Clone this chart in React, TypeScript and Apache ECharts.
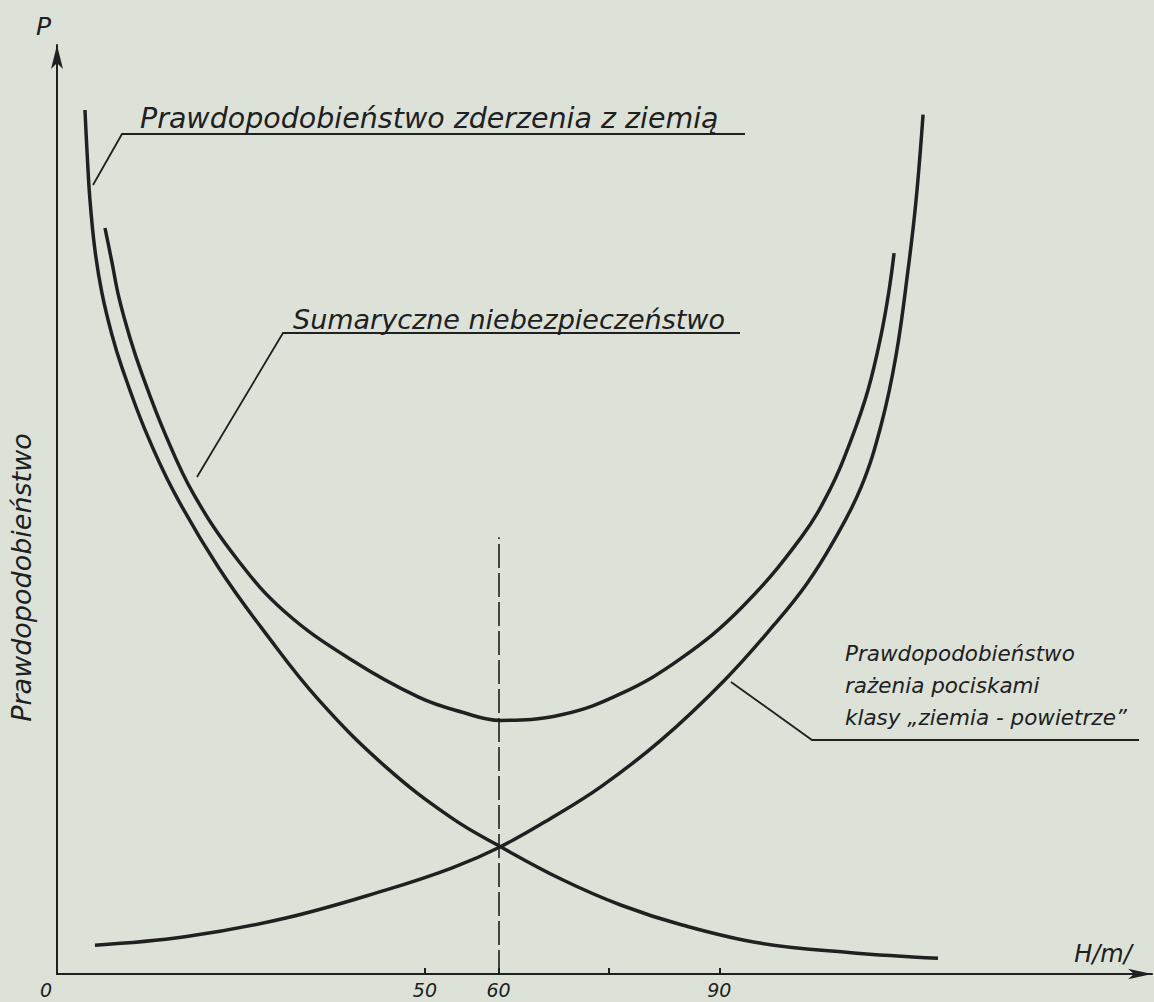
import React, { useEffect, useRef } from "react";
import * as echarts from "echarts";

// ---- Data (H in metres, P in relative units 0..100) ----
const collisionProbability: [number, number][] = [
  [3.8, 93.0], [4.07, 88.7], [4.48, 83.3], [5.16, 77.9], [6.11, 73.3],
  [7.47, 68.8], [8.82, 65.3], [11.95, 58.6], [15.88, 51.9], [21.99, 43.7],
  [28.51, 36.5], [35.56, 29.5], [44.52, 22.4], [53.62, 16.8], [60.27, 13.7],
  [68.55, 10.2], [76.69, 7.4], [84.84, 5.3], [95.7, 3.3], [107.91, 2.3],
  [119.72, 1.7],
];
const totalDanger: [number, number][] = [
  [6.52, 80.3], [7.47, 76.6], [8.42, 72.8], [9.91, 68.5], [11.54, 64.6],
  [14.66, 58.2], [18.6, 51.6], [24.43, 44.7], [30.95, 39.0], [40.04, 33.8],
  [49.14, 29.8], [54.97, 28.2], [60.27, 27.3], [68.55, 27.9], [76.69, 30.2],
  [84.84, 34.0], [92.98, 39.4], [101.13, 47.0], [105.2, 52.4], [107.91, 57.5],
  [110.22, 62.9], [111.99, 68.8], [113.07, 73.6], [113.75, 77.6],
];
const hitProbability: [number, number][] = [
  [5.16, 3.1], [17.37, 4.0], [30.95, 6.0], [44.52, 9.0], [53.62, 11.4],
  [60.27, 13.7], [67.19, 16.8], [73.98, 20.2], [82.12, 25.2], [90.68, 31.6],
  [97.46, 37.6], [101.8, 41.9], [105.61, 46.7], [109.27, 52.4], [111.99, 59.1],
  [114.02, 66.6], [115.65, 75.8], [116.74, 83.3], [117.69, 92.5],
];
const xTickValues = [50, 60, 75, 90];
const xLabelValues = [0, 50, 60, 90];
const markerH = 60;
const markerTopP = 47;

const labelCollision = "Prawdopodobieństwo zderzenia z ziemią";
const labelTotal = "Sumaryczne niebezpieczeństwo";
const labelHitLines = ["Prawdopodobieństwo", "rażenia pociskami", "klasy „ziemia - powietrze”"];
const yAxisTitle = "Prawdopodobieństwo";
const yAxisSymbol = "P";
const xAxisTitle = "H/m/";

const INK = "#202020";
const FONT = "'DejaVu Sans', 'Noto Sans', sans-serif";

export default function App() {
  const ref = useRef<HTMLDivElement>(null);
  useEffect(() => {
    if (!ref.current) return;
    const chart = echarts.init(ref.current, undefined, { renderer: "svg" });
    const curveStyle = { color: INK, width: 3.5 };
    const textBase = { fill: INK, fontFamily: FONT, fontStyle: "italic", verticalAlign: "middle" };
    const curve = (name: string, data: [number, number][], extra: any = {}) => ({
      name,
      type: "line",
      data,
      smooth: 0.4,
      showSymbol: false,
      lineStyle: curveStyle,
      itemStyle: { color: INK },
      ...extra,
    });
    chart.setOption({
      animation: false,
      backgroundColor: "#dde2d9",
      grid: { left: 55, right: 2, top: 45, bottom: 28 },
      xAxis: {
        type: "value",
        min: 0,
        max: 148.8,
        splitLine: { show: false },
        axisLine: {
          show: true,
          onZero: false,
          symbol: ["none", "arrow"],
          symbolSize: [8, 24],
          lineStyle: { color: INK, width: 2 },
        },
        axisTick: {
          show: true,
          inside: true,
          length: 6,
          customValues: xTickValues,
          lineStyle: { color: INK, width: 2 },
        },
        axisLabel: {
          show: true,
          customValues: xLabelValues,
          margin: 7,
          color: INK,
          fontFamily: FONT,
          fontStyle: "italic",
          fontSize: 19,
          lineHeight: 18,
          formatter: (v: number) => (v === 0 ? "{z|0}" : String(v)),
          rich: {
            z: {
              color: INK,
              fontFamily: FONT,
              fontStyle: "italic",
              fontSize: 19,
              lineHeight: 18,
              padding: [0, 22, 0, 0],
            },
          },
        },
        name: xAxisTitle,
        nameLocation: "end",
        nameGap: -49,
        nameTextStyle: {
          color: INK,
          fontFamily: FONT,
          fontStyle: "italic",
          fontSize: 24,
          align: "center",
          verticalAlign: "bottom",
          padding: [0, 0, 8, 0],
        },
      },
      yAxis: {
        type: "value",
        min: 0,
        max: 100,
        splitLine: { show: false },
        axisTick: { show: false },
        axisLabel: { show: false },
        axisLine: {
          show: true,
          onZero: false,
          symbol: ["none", "arrow"],
          symbolSize: [9, 24],
          lineStyle: { color: INK, width: 2 },
        },
        name: yAxisTitle,
        nameLocation: "middle",
        nameRotate: 90,
        nameGap: 22,
        nameTextStyle: {
          color: INK,
          fontFamily: FONT,
          fontStyle: "italic",
          fontSize: 27,
          padding: [0, 136, 0, 0],
        },
      },
      series: [
        curve(labelCollision, collisionProbability),
        curve(labelTotal, totalDanger, {
          markLine: {
            silent: true,
            symbol: ["none", "none"],
            label: { show: false },
            lineStyle: { color: INK, width: 1.6, type: [24, 5] },
            data: [[{ coord: [markerH, 0] }, { coord: [markerH, markerTopP] }]],
          },
        }),
        curve(labelHitLines.join(" "), hitProbability),
      ],
      graphic: [
        { type: "text", x: 36, y: 26, style: { ...textBase, text: yAxisSymbol, fontSize: 25 } },
        // top label
        { type: "text", x: 140, y: 118, style: { ...textBase, text: labelCollision, fontSize: 28.5 } },
        { type: "polyline", shape: { points: [[93, 185], [122, 134], [745, 134]] }, style: { stroke: INK, lineWidth: 1.8, fill: "none" } },
        // total label
        { type: "text", x: 293, y: 319, style: { ...textBase, text: labelTotal, fontSize: 27 } },
        { type: "polyline", shape: { points: [[197, 477], [283, 333], [740, 333]] }, style: { stroke: INK, lineWidth: 1.8, fill: "none" } },
        // hit label
        { type: "text", x: 845, y: 653, style: { ...textBase, text: labelHitLines[0], fontSize: 21.5 } },
        { type: "text", x: 845, y: 685, style: { ...textBase, text: labelHitLines[1], fontSize: 21.5 } },
        { type: "text", x: 845, y: 717, style: { ...textBase, text: labelHitLines[2], fontSize: 21.5 } },
        { type: "polyline", shape: { points: [[731, 682], [812, 740], [1139, 740]] }, style: { stroke: INK, lineWidth: 1.8, fill: "none" } },
      ],
    });
    return () => chart.dispose();
  }, []);
  return (
    <div
      ref={ref}
      style={{ position: "fixed", left: 0, top: 0, width: 1154, height: 1002 }}
    />
  );
}
